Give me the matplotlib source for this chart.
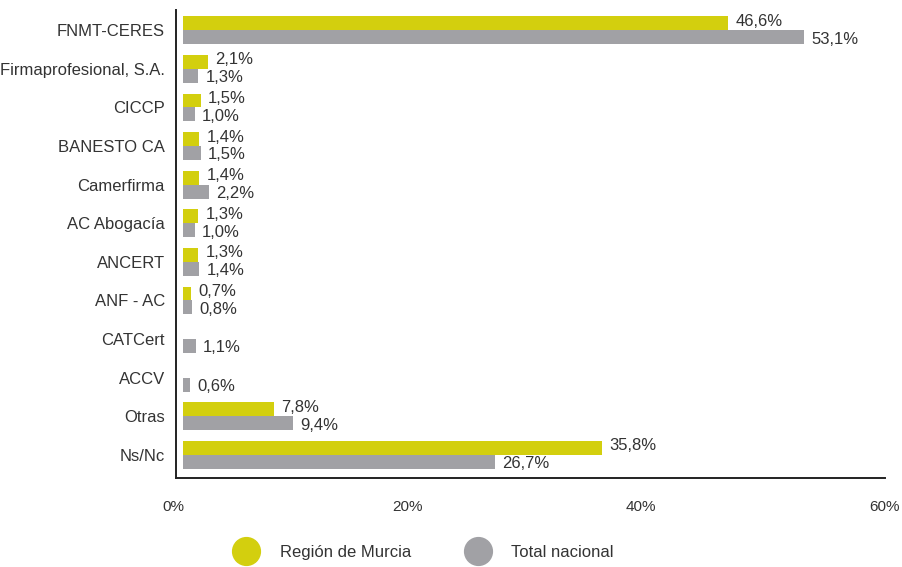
import numpy as np
import matplotlib
matplotlib.use("Agg")
import matplotlib.pyplot as plt
from matplotlib.lines import Line2D
from matplotlib.transforms import ScaledTranslation

categories = ["FNMT-CERES", "Firmaprofesional, S.A.", "CICCP", "BANESTO CA",
              "Camerfirma", "AC Abogacía", "ANCERT", "ANF - AC", "CATCert",
              "ACCV", "Otras", "Ns/Nc"]
murcia = [46.6, 2.1, 1.5, 1.4, 1.4, 1.3, 1.3, 0.7, np.nan, np.nan, 7.8, 35.8]
nacional = [53.1, 1.3, 1.0, 1.5, 2.2, 1.0, 1.4, 0.8, 1.1, 0.6, 9.4, 26.7]
series_names = ["Región de Murcia", "Total nacional"]

YELLOW = "#d3cf0e"
GRAY = "#a1a1a5"
TEXT = "#333333"

plt.rcParams["font.family"] = ["Liberation Sans Narrow", "Liberation Sans", "DejaVu Sans"]
plt.rcParams["font.size"] = 12


def fmt(v):
    return f"{v:.1f}".replace(".", ",") + "%"


def main():
    fig = plt.figure(figsize=(9.03, 5.67), dpi=100)
    ax = fig.add_axes([0.195, 0.157, 0.785, 0.825])

    y = np.arange(len(categories))
    h = 0.36
    ax.barh(y - h / 2, murcia, height=h, color=YELLOW)
    ax.barh(y + h / 2, nacional, height=h, color=GRAY)

    # value labels next to the bar ends
    for yi, v in zip(y, murcia):
        if not np.isnan(v):
            ax.text(v + 0.6, yi - h / 2 - 0.05, fmt(v), va="center", ha="left",
                    color=TEXT, fontsize=12)
    for yi, v in zip(y, nacional):
        ax.text(v + 0.6, yi + h / 2 + 0.05, fmt(v), va="center", ha="left",
                color=TEXT, fontsize=12)

    ax.set_yticks(y)
    ax.set_yticklabels(categories, color=TEXT, fontsize=12)
    ax.set_ylim(len(categories) - 0.4, -0.52)
    ax.set_xlim(-0.6, 59.8)
    ax.set_xticks([0, 20, 40, 60])
    ax.set_xticklabels(["0%", "20%", "40%", "60%"], color=TEXT, fontsize=11)
    ax.tick_params(axis="both", length=0)
    ax.tick_params(axis="x", pad=16)
    ax.tick_params(axis="y", pad=8)
    shift = ScaledTranslation(-10 / 100, 0, fig.dpi_scale_trans)
    for lab in ax.get_xticklabels()[:-1]:
        lab.set_transform(lab.get_transform() + shift)

    for s in ["top", "right"]:
        ax.spines[s].set_visible(False)
    for s in ["left", "bottom"]:
        ax.spines[s].set_color("#222222")
        ax.spines[s].set_linewidth(1.4)

    handles = [Line2D([], [], marker="o", linestyle="", markersize=20,
                      markerfacecolor=c, markeredgecolor=c)
               for c in (YELLOW, GRAY)]
    fig.legend(handles, series_names, loc="center", ncol=2, frameon=False,
               bbox_to_anchor=(0.467, 0.025), columnspacing=3, handletextpad=1.0,
               fontsize=12, labelcolor=TEXT)

    fig.savefig("out.png", dpi=100)


if __name__ == "__main__":
    main()
